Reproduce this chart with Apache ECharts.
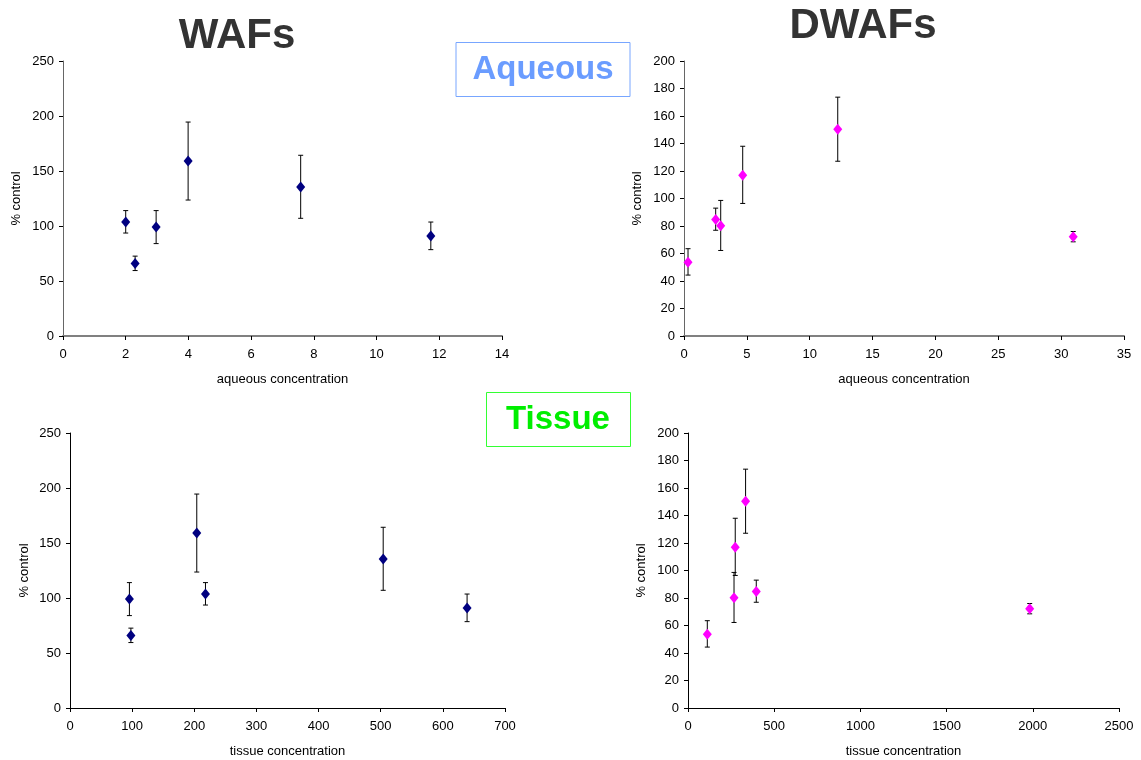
<!DOCTYPE html>
<html>
<head>
<meta charset="utf-8">
<script src="https://cdn.jsdelivr.net/npm/echarts@6/dist/echarts.min.js"></script>
<style>
html,body{margin:0;padding:0;background:#fff;}
#c{width:1141px;height:760px;}
</style>
</head>
<body>
<div id="c"></div>
<script>
// ---- Data ----
// WAFs
const wafAqueous = [2.0, 2.3, 2.97, 3.99, 7.58, 11.73];
const wafTissue = [218, 98, 95.6, 204, 504, 639];
const wafControl = [103.6, 65.8, 99.0, 159.0, 135.4, 91.0];
const wafLow = [93.6, 59.5, 84.0, 123.6, 107.0, 78.5];
const wafHigh = [114.0, 72.6, 114.0, 194.5, 164.3, 103.6];
// DWAFs
const dwafAqueous = [0.32, 2.52, 2.92, 4.67, 12.23, 30.96];
const dwafTissue = [112, 396, 267, 274, 334, 1982];
const dwafControl = [53.6, 84.8, 80.2, 117.0, 150.3, 72.2];
const dwafLow = [44.3, 76.9, 62.2, 96.4, 127.1, 68.5];
const dwafHigh = [63.5, 93.0, 98.6, 138.0, 173.7, 76.0];

const FONT = '"Liberation Sans", Arial, sans-serif';

const chart = echarts.init(document.getElementById('c'));

const grids = [
  {left: 63, top: 61, width: 439, height: 275},
  {left: 684, top: 61, width: 440, height: 275},
  {left: 70, top: 433, width: 435, height: 275},
  {left: 688, top: 433, width: 431, height: 275}
];

function plain(v) { return String(v); }

function xAxis(idx, max, interval, name, topRow) {
  return {
    gridIndex: idx, type: 'value', min: 0, max: max, interval: interval,
    name: name, nameLocation: 'middle', nameGap: 37,
    nameTextStyle: {fontFamily: FONT, fontSize: 13, color: '#000'},
    axisLine: {show: true, onZero: false, lineStyle: {color: topRow ? '#808080' : '#000', width: topRow ? 2 : 1}},
    axisTick: {show: true, length: 4, lineStyle: {color: '#000'}},
    axisLabel: {fontFamily: FONT, fontSize: 13, color: '#000', margin: 12, formatter: plain},
    splitLine: {show: false}
  };
}
function yAxis(idx, max, interval, gap, topRow) {
  return {
    gridIndex: idx, type: 'value', min: 0, max: max, interval: interval,
    name: '% control', nameLocation: 'middle', nameGap: gap, nameRotate: 90,
    nameTextStyle: {fontFamily: FONT, fontSize: 13, color: '#000'},
    axisLine: {show: true, onZero: false, lineStyle: {color: topRow ? '#666' : '#000', width: 1}},
    axisTick: {show: true, length: 4, lineStyle: {color: '#000'}},
    axisLabel: {fontFamily: FONT, fontSize: 13, color: '#000', margin: 9, formatter: plain},
    splitLine: {show: false}
  };
}

function errData(xs, lo, hi) {
  return xs.map((x, i) => [x, lo[i], hi[i]]);
}
function ptData(xs, ys) {
  return xs.map((x, i) => [x, ys[i]]);
}
function errSeries(idx, xs, lo, hi) {
  return {
    type: 'custom', xAxisIndex: idx, yAxisIndex: idx, z: 2,
    data: errData(xs, lo, hi),
    renderItem: function (params, api) {
      const x = api.value(0);
      const a = api.coord([x, api.value(2)]);
      const b = api.coord([x, api.value(1)]);
      const cw = 2.5;
      const st = {stroke: '#000', lineWidth: 1};
      return {
        type: 'group',
        children: [
          {type: 'line', shape: {x1: a[0], y1: a[1], x2: b[0], y2: b[1]}, style: st},
          {type: 'line', shape: {x1: a[0] - cw, y1: a[1], x2: a[0] + cw, y2: a[1]}, style: st},
          {type: 'line', shape: {x1: b[0] - cw, y1: b[1], x2: b[0] + cw, y2: b[1]}, style: st}
        ]
      };
    }
  };
}
function ptSeries(idx, xs, ys, color) {
  return {
    type: 'scatter', xAxisIndex: idx, yAxisIndex: idx, z: 3,
    symbol: 'diamond', symbolSize: [9, 11],
    itemStyle: {color: color, opacity: 1},
    data: ptData(xs, ys)
  };
}

chart.setOption({
  animation: false,
  backgroundColor: '#fff',
  title: [
    {text: 'WAFs', left: 232, top: 10, textAlign: 'center',
     textStyle: {fontFamily: FONT, fontWeight: 'bold', fontSize: 42, color: '#333'}},
    {text: 'DWAFs', left: 858, top: 0, textAlign: 'center',
     textStyle: {fontFamily: FONT, fontWeight: 'bold', fontSize: 42, color: '#333'}}
  ],
  grid: grids,
  xAxis: [
    xAxis(0, 14, 2, 'aqueous concentration', true),
    xAxis(1, 35, 5, 'aqueous concentration', true),
    xAxis(2, 700, 100, 'tissue concentration', false),
    xAxis(3, 2500, 500, 'tissue concentration', false)
  ],
  yAxis: [
    yAxis(0, 250, 50, 40, true),
    yAxis(1, 200, 20, 40, true),
    yAxis(2, 250, 50, 39, false),
    yAxis(3, 200, 20, 40, false)
  ],
  series: [
    errSeries(0, wafAqueous, wafLow, wafHigh),
    ptSeries(0, wafAqueous, wafControl, '#000080'),
    errSeries(1, dwafAqueous, dwafLow, dwafHigh),
    ptSeries(1, dwafAqueous, dwafControl, '#ff00ff'),
    errSeries(2, wafTissue, wafLow, wafHigh),
    ptSeries(2, wafTissue, wafControl, '#000080'),
    errSeries(3, dwafTissue, dwafLow, dwafHigh),
    ptSeries(3, dwafTissue, dwafControl, '#ff00ff')
  ],
  graphic: [
    {type: 'rect', shape: {x: 456, y: 42.5, width: 174, height: 54},
     style: {fill: '#fff', stroke: '#78a6ff', lineWidth: 1}},
    {type: 'text', x: 543, y: 70,
     style: {text: 'Aqueous', font: 'bold 33px ' + FONT, fill: '#6a9cff', align: 'center', verticalAlign: 'middle'}},
    {type: 'rect', shape: {x: 486.5, y: 392.5, width: 144, height: 54},
     style: {fill: '#fff', stroke: '#33ff33', lineWidth: 1}},
    {type: 'text', x: 558, y: 420,
     style: {text: 'Tissue', font: 'bold 33px ' + FONT, fill: '#00ee00', align: 'center', verticalAlign: 'middle'}}
  ]
});
</script>
</body>
</html>
